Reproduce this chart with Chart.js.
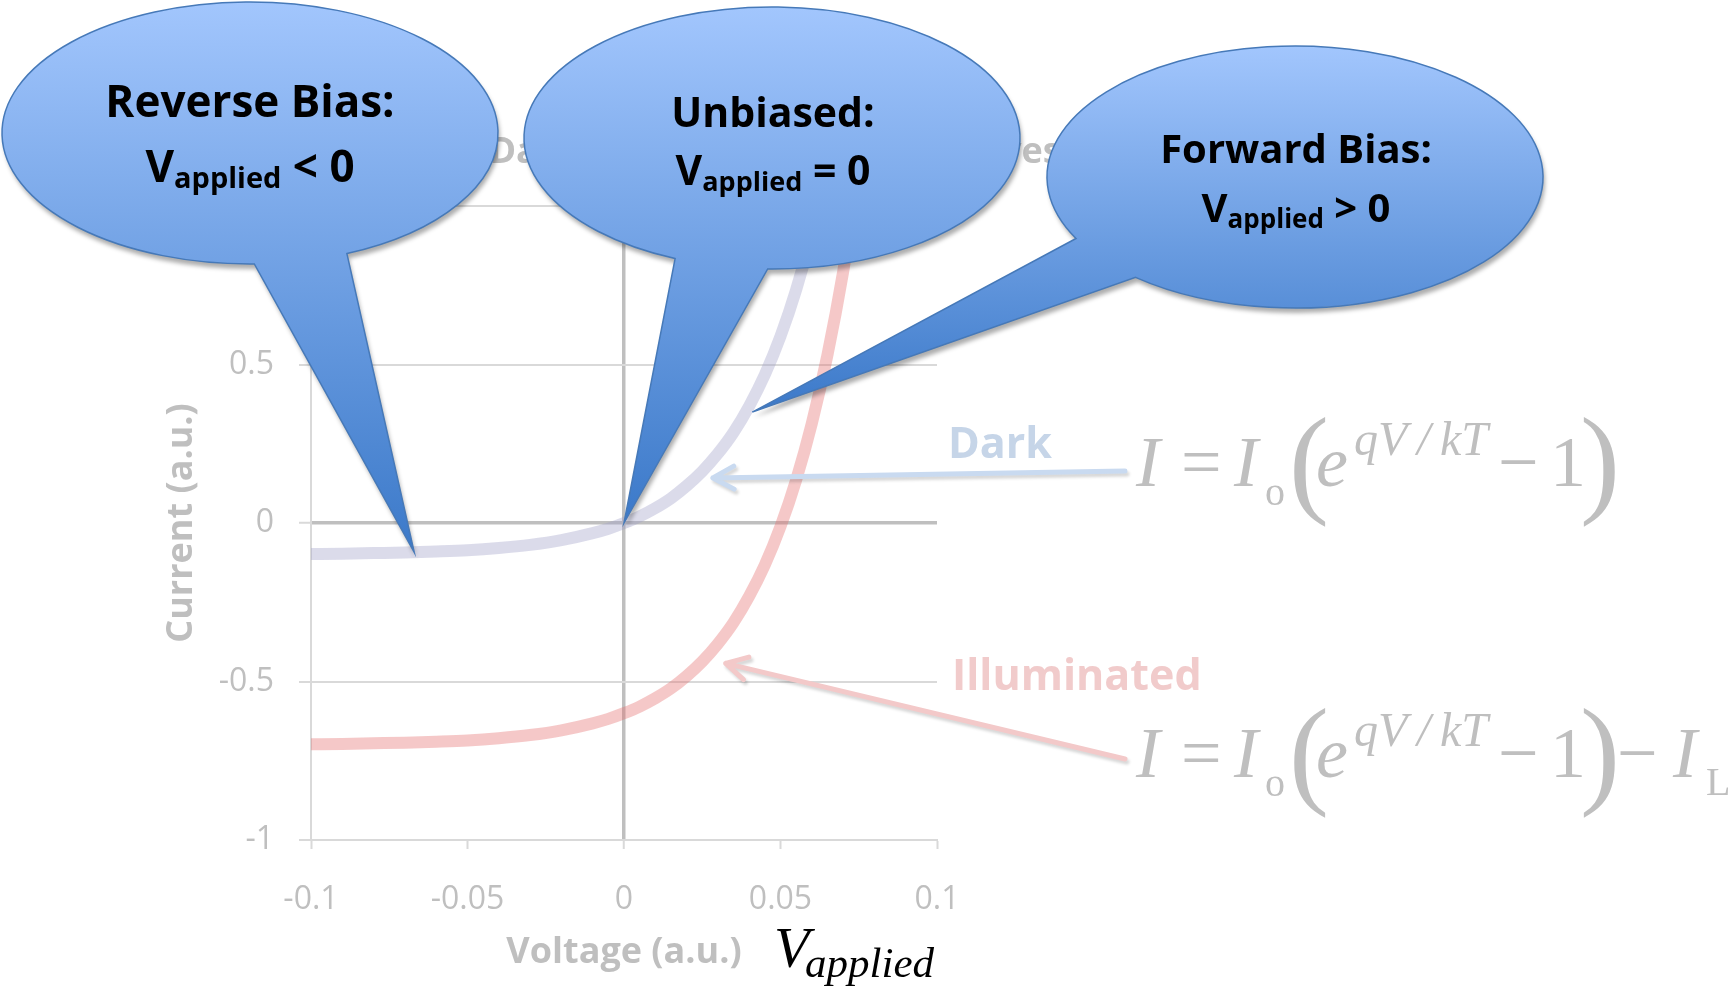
<!DOCTYPE html>
<html>
<head>
<meta charset="utf-8">
<title>Dark and Illuminated I-V Curves</title>
<script src="https://cdn.jsdelivr.net/npm/chart.js@4.4.1/dist/chart.umd.min.js"></script>
<style>
  html, body { margin: 0; padding: 0; background: #fff; }
  canvas { display: block; }
</style>
</head>
<body>
<canvas id="grafica" width="1730" height="994"></canvas>
<script>
// Datos (voltaje y corriente en unidades arbitrarias)
const voltage = [-0.1, -0.09, -0.08, -0.07, -0.06, -0.05, -0.04, -0.03, -0.02, -0.01, -0.005, 0,
  0.005, 0.01, 0.015, 0.02, 0.025, 0.03, 0.035, 0.04, 0.045, 0.05, 0.055, 0.06, 0.065, 0.07, 0.075];
const darkCurrent = [-0.098, -0.097, -0.095, -0.093, -0.090, -0.086, -0.079, -0.069, -0.054, -0.032, -0.018, 0,
  0.021, 0.047, 0.078, 0.117, 0.163, 0.219, 0.286, 0.369, 0.468, 0.589, 0.736, 0.914, 1.130, 1.392, 1.710];
const illuminatedCurrent = [-0.698, -0.697, -0.695, -0.693, -0.690, -0.686, -0.679, -0.669, -0.654, -0.632, -0.618, -0.600,
  -0.579, -0.553, -0.522, -0.483, -0.437, -0.381, -0.314, -0.231, -0.132, -0.011, 0.136, 0.314, 0.530, 0.792, 1.110];

const xTicks = [-0.1, -0.05, 0, 0.05, 0.1];
const xTickLabels = ["-0.1", "-0.05", "0", "0.05", "0.1"];
const yTicks = [-1, -0.5, 0, 0.5, 1];
const yTickLabels = ["-1", "-0.5", "0", "0.5", "1"];

const chartTitle = "Dark and Illuminated I-V Curves";
const xTitle = "Voltage (a.u.)";
const yTitle = "Current (a.u.)";
const seriesNames = ["Dark", "Illuminated"];

// Globos de texto y flechas (puntas en coordenadas de datos)
const calloutTitles = ["Reverse Bias:", "Unbiased:", "Forward Bias:"];
const calloutSigns = ["< 0", "= 0", "> 0"];
const calloutTips = [{ x: -0.067, y: -0.093 }, { x: 0, y: 0 }, { x: 0.041, y: 0.35 }];
const arrowTips = [{ x: 0.0284, y: 0.142 }, { x: 0.0325, y: -0.443 }];

const SANS = '"Open Sans", "DejaVu Sans", sans-serif';
const SERIF = '"Liberation Serif", "DejaVu Serif", serif';
const GRIS = "#bfbfbf";

function texto(ctx, t, x, y, font, color, align) {
  ctx.font = font;
  ctx.fillStyle = color;
  ctx.textAlign = align || "left";
  ctx.textBaseline = "alphabetic";
  ctx.fillText(t, x, y);
}

function flecha(ctx, x1, y1, tip, color) {
  ctx.save();
  ctx.strokeStyle = color;
  ctx.lineWidth = 5;
  ctx.lineCap = "round";
  ctx.lineJoin = "round";
  ctx.shadowColor = "rgba(0,0,0,0.16)";
  ctx.shadowOffsetX = 2;
  ctx.shadowOffsetY = 3;
  ctx.shadowBlur = 3;
  const ang = Math.atan2(tip.y - y1, tip.x - x1);
  ctx.beginPath();
  ctx.moveTo(x1, y1);
  ctx.lineTo(tip.x, tip.y);
  [-0.5, 0.5].forEach(d => {
    ctx.moveTo(tip.x, tip.y);
    ctx.lineTo(tip.x - 24 * Math.cos(ang + d), tip.y - 24 * Math.sin(ang + d));
  });
  ctx.stroke();
  ctx.restore();
}

// Ecuación I = Io(e^{qV/kT} - 1) [- IL]
function ecuacion(ctx, x0, b, conLuz) {
  const it = s => `italic ${s}px ${SERIF}`;
  const rm = s => `${s}px ${SERIF}`;
  const partes = [
    ["I", it(72), 0, 0],
    ["=", rm(72), 45, 0],
    ["I", it(72), 98, 0],
    ["o", rm(40), 129, 19],
    ["(", rm(120), 153, 15],
    ["e", it(72), 180, 0],
    ["qV\u2009/\u2009kT", it(48), 218, -31],
    ["\u2212", rm(72), 362, 0],
    ["1", rm(72), 414, 0],
    [")", rm(120), 444, 15]
  ];
  if (conLuz) {
    partes.push(["\u2212", rm(72), 481, 0]);
    partes.push(["I", it(72), 537, 0]);
    partes.push(["L", rm(40), 570, 18]);
  }
  partes.forEach(p => texto(ctx, p[0], x0 + p[2], b + p[3], p[1], GRIS, "left"));
}

function globo(ctx, g, tip, titulo, signo) {
  const rx = 248, ry = 131;
  const rad = d => d * Math.PI / 180;
  ctx.save();
  ctx.beginPath();
  ctx.moveTo(tip.x, tip.y);
  ctx.lineTo(g.cx + rx * Math.cos(rad(g.a2)), g.cy + ry * Math.sin(rad(g.a2)));
  ctx.ellipse(g.cx, g.cy, rx, ry, 0, rad(g.a2), rad(g.a1), false);
  ctx.closePath();
  const grad = ctx.createLinearGradient(0, g.cy - ry, 0, Math.max(g.cy + ry, tip.y));
  grad.addColorStop(0, "#a2c6fd");
  grad.addColorStop(1, "#3b79c9");
  ctx.fillStyle = grad;
  ctx.shadowColor = "rgba(0,0,0,0.32)";
  ctx.shadowBlur = 4;
  ctx.shadowOffsetX = 2;
  ctx.shadowOffsetY = 5;
  ctx.fill();
  ctx.shadowColor = "rgba(0,0,0,0)";
  ctx.strokeStyle = "#4679b8";
  ctx.lineWidth = 1.5;
  ctx.stroke();

  // Texto: título y V_applied
  const fBig = `bold ${g.fs}px ${SANS}`, fSub = `bold ${Math.round(g.fs * 0.66)}px ${SANS}`;
  texto(ctx, titulo, g.tx, g.b1, fBig, "#000", "center");
  ctx.font = fBig;
  const wV = ctx.measureText("V").width;
  const wS = ctx.measureText(" " + signo).width;
  ctx.font = fSub;
  const wA = ctx.measureText("applied").width;
  const x = g.tx - (wV + wA + wS) / 2;
  texto(ctx, "V", x, g.b2, fBig, "#000");
  texto(ctx, "applied", x + wV, g.b2 + 6, fSub, "#000");
  texto(ctx, " " + signo, x + wV + wA, g.b2, fBig, "#000");
  ctx.restore();
}

const formaGlobos = [
  { cx: 250, cy: 133, a1: 67, a2: 89, tx: 250, b1: 117, b2: 182, fs: 44 },
  { cx: 772, cy: 138, a1: 91, a2: 113, tx: 773, b1: 127, b2: 185, fs: 41 },
  { cx: 1295, cy: 177, a1: 130, a2: 152, tx: 1296, b1: 163, b2: 222, fs: 40 }
];

const anotaciones = {
  id: "anotaciones",
  afterDraw(chart) {
    const { ctx, scales: { x, y } } = chart;
    const px = p => ({ x: x.getPixelForValue(p.x), y: y.getPixelForValue(p.y) });
    ctx.save();
    // Título del gráfico (queda casi tapado por los globos)
    texto(ctx, chartTitle, 775, 163, `bold 36px ${SANS}`, GRIS, "center");

    // Etiquetas de las curvas con sus flechas
    texto(ctx, seriesNames[0], 948, 458, `bold 43px ${SANS}`, "#c6d5e8", "left");
    texto(ctx, seriesNames[1], 952, 690, `bold 43px ${SANS}`, "#f1cbcb", "left");
    flecha(ctx, 1125, 471, px(arrowTips[0]), "#c9daf0");
    flecha(ctx, 1125, 759, px(arrowTips[1]), "#f3c9c9");

    ecuacion(ctx, 1136, 486, false);
    ecuacion(ctx, 1136, 777, true);

    // V_applied bajo el eje x
    texto(ctx, "V", 774, 967, `italic 58px ${SERIF}`, "#000", "left");
    texto(ctx, "applied", 805, 977, `italic 43px ${SERIF}`, "#000", "left");

    formaGlobos.forEach((g, i) => globo(ctx, g, px(calloutTips[i]), calloutTitles[i], calloutSigns[i]));
    ctx.restore();
  }
};

const ctx = document.getElementById("grafica").getContext("2d");
const grafica = new Chart(ctx, {
  type: "line",
  data: {
    datasets: [
      {
        label: seriesNames[0],
        data: voltage.map((v, i) => ({ x: v, y: darkCurrent[i] })),
        borderColor: "rgba(160,160,200,0.38)",
        borderWidth: 12,
        pointRadius: 0,
        cubicInterpolationMode: "monotone",
        fill: false
      },
      {
        label: seriesNames[1],
        data: voltage.map((v, i) => ({ x: v, y: illuminatedCurrent[i] })),
        borderColor: "rgba(230,110,110,0.38)",
        borderWidth: 12,
        pointRadius: 0,
        cubicInterpolationMode: "monotone",
        fill: false
      }
    ]
  },
  options: {
    responsive: false,
    animation: false,
    events: [],
    layout: { padding: { top: 206, right: 793, left: 0, bottom: 0 } },
    plugins: {
      legend: { display: false },
      title: { display: false },
      tooltip: { enabled: false }
    },
    scales: {
      x: {
        type: "linear",
        min: -0.1,
        max: 0.1,
        afterBuildTicks: s => { s.ticks = xTicks.map(v => ({ value: v })); },
        afterFit: s => { s.height = 154; },
        ticks: {
          callback: (v, i) => xTickLabels[i],
          color: GRIS,
          font: { family: SANS, size: 32 },
          padding: 32,
          maxRotation: 0,
          autoSkip: false
        },
        grid: {
          color: c => (c.tick && c.tick.value === 0 ? GRIS : "rgba(0,0,0,0)"),
          lineWidth: c => (c.tick && c.tick.value === 0 ? 3.5 : 1),
          tickColor: "#d9d9d9",
          tickLength: 9,
          tickWidth: 2
        },
        border: { color: "#d9d9d9", width: 2 },
        title: {
          display: true,
          text: xTitle,
          color: GRIS,
          font: { family: SANS, size: 36, weight: "bold" },
          padding: { top: 0, bottom: 20 }
        }
      },
      y: {
        min: -1,
        max: 1,
        afterBuildTicks: s => { s.ticks = yTicks.map(v => ({ value: v })); },
        afterFit: s => { s.width = 311; },
        ticks: {
          callback: (v, i) => yTickLabels[i],
          color: GRIS,
          font: { family: SANS, size: 32 },
          padding: 25
        },
        grid: {
          color: c => (c.tick && c.tick.value === 0 ? GRIS : "#d9d9d9"),
          lineWidth: c => (c.tick && c.tick.value === 0 ? 3.5 : 2),
          tickColor: "#d9d9d9",
          tickLength: 12,
          tickWidth: 2
        },
        border: { color: "#d9d9d9", width: 2 },
        title: {
          display: true,
          text: yTitle,
          color: GRIS,
          font: { family: SANS, size: 36, weight: "bold" },
          padding: { top: 160, bottom: 0 }
        }
      }
    }
  },
  plugins: [anotaciones]
});
</script>
</body>
</html>
